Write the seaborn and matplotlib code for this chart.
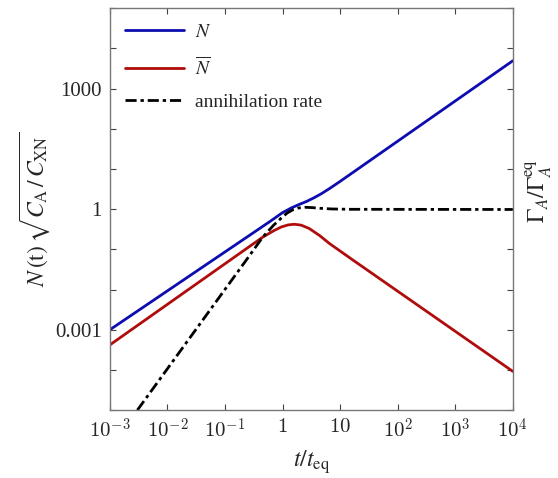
import matplotlib
matplotlib.use('Agg')
import matplotlib.pyplot as plt
import matplotlib.ticker as mticker
import seaborn as sns
import pandas as pd
import numpy as np

# values (t / t_eq, log-log)
t_N = [1e-3, 0.3, 0.6, 1.0, 1.4, 1.9, 2.6, 3.5, 4.7, 6.5, 10.0, 1e4]
N = [1e-3, 0.25, 0.49, 0.82, 1.06, 1.29, 1.55, 1.91, 2.41, 3.23, 4.9, 4900]

t_Nbar = [1e-3, 0.45, 0.7, 0.95, 1.25, 1.6, 2.1, 2.9, 4.4, 6.5, 16.4, 1e4]
Nbar = [4.2e-4, 0.2, 0.29, 0.36, 0.405, 0.42, 0.4, 0.33, 0.22, 0.14, 0.055, 9.2e-5]

t_ann = [3e-3, 0.236, 0.45, 0.7, 0.95, 1.2, 1.5, 1.9, 2.5, 3.3, 4.4, 7.0, 15.0, 1e4]
ann = [1e-5, 0.055, 0.2, 0.4, 0.6, 0.8, 0.96, 1.07, 1.11, 1.09, 1.05, 1.01, 0.99, 0.98]

x_ticks = [1e-3, 1e-2, 1e-1, 1, 10, 1e2, 1e3, 1e4]
x_labels = [r'$10^{-3}$', r'$10^{-2}$', r'$10^{-1}$', r'$1$', r'$10$',
            r'$10^{2}$', r'$10^{3}$', r'$10^{4}$']
y_label_map = {1e-3: '0.001', 1.0: '1', 1e3: '1000'}

sns.set_style('ticks')
plt.rcParams['font.family'] = ['Liberation Serif', 'DejaVu Serif']
plt.rcParams['mathtext.fontset'] = 'stix'

fig = plt.figure(figsize=(5.58, 4.78), dpi=100)
ax = fig.add_axes([0.197, 0.142, 0.722, 0.841])

sns.lineplot(x=t_N, y=N, ax=ax, color='#0c0cb0', linewidth=2.0, label=r'$N$')
sns.lineplot(x=t_Nbar, y=Nbar, ax=ax, color='#b00c0c', linewidth=2.0,
             label=r'$\overline{N}$')
sns.lineplot(x=t_ann, y=ann, ax=ax, color='black', linewidth=2.0,
             linestyle=(0, (4, 1.4, 1.2, 1.4)), label='annihilation rate')

ax.set_xscale('log')
ax.set_yscale('log')
ax.set_xlim(1e-3, 1e4)
ax.set_ylim(1e-5, 1e5)

ax.xaxis.set_major_locator(mticker.FixedLocator(x_ticks))
ax.xaxis.set_major_formatter(mticker.FixedFormatter(x_labels))
ax.yaxis.set_major_locator(mticker.FixedLocator([10.0 ** k for k in range(-5, 6)]))
ax.yaxis.set_major_formatter(mticker.FuncFormatter(
    lambda v, p: next((s for k, s in y_label_map.items() if np.isclose(v, k)), '')))
ax.xaxis.set_minor_locator(mticker.NullLocator())
ax.yaxis.set_minor_locator(mticker.NullLocator())

ax.tick_params(which='major', direction='in', length=4, width=0.8, color='#444444',
               top=True, right=True, labelsize=15, pad=6)
for s in ax.spines.values():
    s.set_color('#777777')
    s.set_linewidth(1.0)
for lab in ax.get_xticklabels():
    lab.set_math_fontfamily('cm')

ax.set_xlabel(r'$t/t_{\mathrm{eq}}$', fontsize=17, labelpad=4)
ax.set_ylabel(r'$N\,(\mathrm{t})\,\sqrt{C_{\mathrm{A}}\,/\,C_{\mathrm{XN}}}$', fontsize=17, labelpad=2)
fig.text(0.965, 0.60, r'$\Gamma_A/\Gamma_A^{\mathrm{eq}}$', rotation=90,
         fontsize=17, ha='center', va='center')

ax.legend(loc='upper left', frameon=False, fontsize=14, handlelength=3.0,
          labelspacing=0.75, borderaxespad=0.4, handletextpad=0.6)

fig.savefig('out.png', dpi=100)
